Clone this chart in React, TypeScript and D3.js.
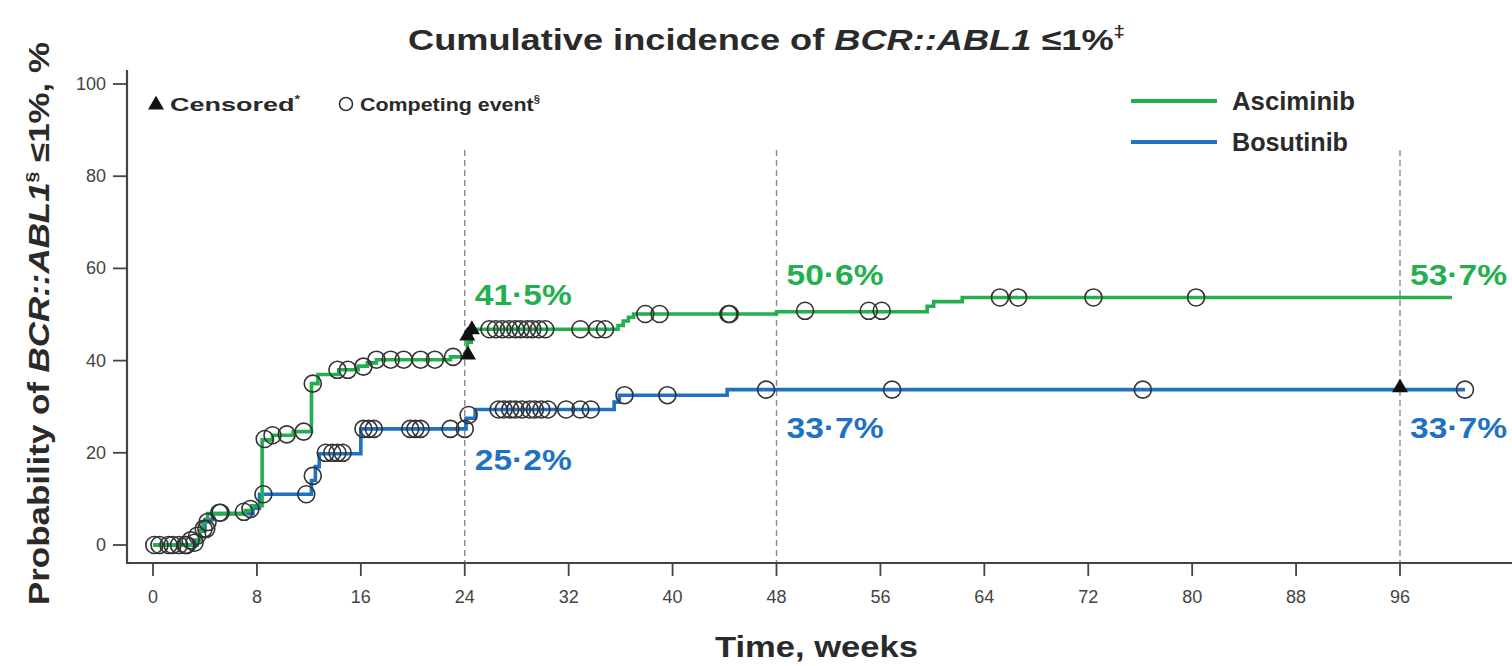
import React from "react";
import * as d3 from "d3";

const xTicks = [0, 8, 16, 24, 32, 40, 48, 56, 64, 72, 80, 88, 96];
const yTicks = [0, 20, 40, 60, 80, 100];
const refWeeks = [24, 48, 96];

// step change points [week, %]
const asciminibSteps: [number, number][] = [
  [0, 0], [3.4, 1], [3.6, 3], [3.85, 5], [4.2, 6.8], [7.1, 7.5], [7.6, 8.5], [8.4, 22.8], [9.2, 23.8], [10.8, 24.6],
  [12.2, 35], [12.7, 37], [14.3, 38], [15.8, 38.8], [16.5, 39.5], [17.2, 40.2], [22.9, 40.8], [24, 41.5],
  [24.2, 44], [24.5, 46.8], [35.8, 47.6], [36.2, 48.6], [36.6, 49.4], [37, 50.1], [48, 50.6],
  [59.6, 51.8], [60.1, 52.8], [62.3, 53.7], [100.0, 53.7],
];
const bosutinibSteps: [number, number][] = [
  [0, 0], [3.2, 1], [3.6, 3], [4.0, 5.5], [4.6, 6.8], [7.7, 8], [8.2, 11], [12.2, 14], [12.5, 17], [12.8, 19.8],
  [16, 25.2], [24.1, 27.5], [24.8, 29.4], [35.5, 31], [35.9, 32.5], [44.2, 33.7], [101.0, 33.7],
];

const asciminibCompeting: [number, number][] = [
  [0.5, 0], [1.5, 0], [2.5, 0], [3.2, 0.5], [4.1, 3.5], [5.1, 7], [7.0, 7.2], [7.5, 7.8],
  [8.6, 23], [9.2, 23.8], [10.3, 24], [11.6, 24.6], [12.3, 35], [14.2, 38], [15.0, 38], [16.2, 38.7],
  [17.2, 40.2], [18.3, 40.2], [19.3, 40.2], [20.6, 40.2], [21.7, 40.2], [23.1, 40.8],
  [25.9, 46.8], [26.4, 46.8], [26.9, 46.8], [27.4, 46.8], [27.9, 46.8], [28.3, 46.8], [28.8, 46.8], [29.2, 46.8],
  [29.7, 46.8], [30.2, 46.8], [32.9, 46.8], [34.2, 46.8], [34.8, 46.8], [37.9, 50.1], [39.0, 50.1],
  [44.3, 50.1], [44.4, 50.1], [50.2, 50.8], [55.1, 50.8], [56.1, 50.8],
  [65.2, 53.7], [66.6, 53.7], [72.4, 53.7], [80.3, 53.7],
];
const bosutinibCompeting: [number, number][] = [
  [0.1, 0], [1.2, 0], [2.0, 0], [2.6, 0], [2.9, 1], [3.4, 2], [3.9, 3.5], [4.2, 5], [5.2, 7],
  [8.5, 11], [11.8, 11], [12.3, 15], [13.3, 20], [13.8, 20], [14.2, 20], [14.6, 20],
  [16.2, 25.2], [16.6, 25.2], [17.0, 25.2], [19.8, 25.2], [20.2, 25.2], [20.6, 25.2], [22.9, 25.2], [24.0, 25.2],
  [24.3, 28.2], [26.6, 29.4], [27.0, 29.4], [27.5, 29.4], [27.9, 29.4], [28.4, 29.4], [29.0, 29.4], [29.4, 29.4],
  [29.9, 29.4], [30.4, 29.4], [31.8, 29.4], [32.9, 29.4], [33.7, 29.4],
  [36.3, 32.5], [39.6, 32.5], [47.2, 33.7], [56.9, 33.7], [76.2, 33.7], [101.0, 33.7],
];
const asciminibCensored: [number, number][] = [[24.25, 40.8], [24.2, 44.9], [24.55, 46.3]];
const bosutinibCensored: [number, number][] = [[96, 33.7]];

const annotations = [
  { week: 24, text: "41·5%", value: 41.5, series: "Asciminib", dy: -49 },
  { week: 48, text: "50·6%", value: 50.6, series: "Asciminib", dy: -27 },
  { week: 96, text: "53·7%", value: 53.7, series: "Asciminib", dy: -12 },
  { week: 24, text: "25·2%", value: 25.2, series: "Bosutinib", dy: 41 },
  { week: 48, text: "33·7%", value: 33.7, series: "Bosutinib", dy: 48 },
  { week: 96, text: "33·7%", value: 33.7, series: "Bosutinib", dy: 48 },
];

const GREEN = "#22b04f";
const BLUE = "#1f72c2";
const DARK = "#2a2a2a";
const AXIS = "#444";

export default function App() {
  const x = d3.scaleLinear().domain([0, 96]).range([153, 1400]);
  const y = d3.scaleLinear().domain([0, 100]).range([545, 84]);
  const line = d3
    .line<[number, number]>()
    .x((d) => x(d[0]))
    .y((d) => y(d[1]))
    .curve(d3.curveStepAfter);
  const tri = d3.symbol().type(d3.symbolTriangle).size(110)();
  const font = "'Liberation Sans', Arial, sans-serif";
  const narrow = "'Liberation Sans Narrow', 'Liberation Sans', Arial, sans-serif";

  const colorOf = (s: string) => (s === "Asciminib" ? GREEN : BLUE);

  return (
    <svg width={1512} height={666} style={{ position: "absolute", left: 0, top: 0, background: "#fff" }} fontFamily={font}>
      {/* title */}
      <text x={408} y={50} fontSize={30} fontWeight={700} fill={DARK} textLength={717} lengthAdjust="spacingAndGlyphs">
        Cumulative incidence of <tspan fontStyle="italic">BCR::ABL1</tspan> ≤1%
        <tspan fontSize={17} dy={-13}>‡</tspan>
      </text>

      {/* y label */}
      <text transform="translate(49,605) rotate(-90)" fontSize={29} fontWeight={700} fill={DARK} textLength={563} lengthAdjust="spacingAndGlyphs">
        Probability of <tspan fontStyle="italic">BCR::ABL1</tspan>
        <tspan fontSize={16} dy={-11}>§</tspan>
        <tspan dy={11}> ≤1%, %</tspan>
      </text>

      {/* x label */}
      <text x={715} y={657} fontSize={30} fontWeight={700} fill={DARK} textLength={203} lengthAdjust="spacingAndGlyphs">
        Time, weeks
      </text>

      {/* reference dashed lines */}
      {refWeeks.map((w) => (
        <line key={w} x1={x(w)} x2={x(w)} y1={150} y2={563} stroke="#8a8a8a" strokeWidth={1.4} strokeDasharray="6,4" />
      ))}

      {/* axes */}
      <line x1={127} x2={127} y1={70} y2={564} stroke={AXIS} strokeWidth={2.2} />
      <line x1={126} x2={1512} y1={563} y2={563} stroke={AXIS} strokeWidth={2.2} />
      {yTicks.map((t) => (
        <g key={t}>
          <line x1={113} x2={127} y1={y(t)} y2={y(t)} stroke={AXIS} strokeWidth={1.8} />
          <text x={106} y={y(t) + 6} textAnchor="end" fontSize={18} fill="#444" fontFamily={narrow}>
            {t}
          </text>
        </g>
      ))}
      {xTicks.map((t) => (
        <g key={t}>
          <line x1={x(t)} x2={x(t)} y1={563} y2={576} stroke={AXIS} strokeWidth={1.8} />
          <text x={x(t)} y={603} textAnchor="middle" fontSize={18} fill="#444" fontFamily={narrow}>
            {t}
          </text>
        </g>
      ))}

      {/* step curves */}
      <path d={line(bosutinibSteps) || ""} fill="none" stroke={BLUE} strokeWidth={3.6} />
      <path d={line(asciminibSteps) || ""} fill="none" stroke={GREEN} strokeWidth={3.6} />

      {/* competing events */}
      {bosutinibCompeting.concat(asciminibCompeting).map((d, i) => (
        <circle key={i} cx={x(d[0])} cy={y(d[1])} r={8.5} fill="none" stroke="#333" strokeWidth={1.6} />
      ))}
      {/* censored */}
      {asciminibCensored.concat(bosutinibCensored).map((d, i) => (
        <path key={i} d={tri || ""} transform={`translate(${x(d[0])},${y(d[1]) - 2})`} fill="#111" />
      ))}

      {/* annotations */}
      {annotations.map((a, i) => (
        <text
          key={i}
          x={x(a.week) + 10}
          y={y(a.value) + a.dy}
          fontSize={30}
          fontWeight={700}
          fill={colorOf(a.series)}
          textLength={97}
          lengthAdjust="spacingAndGlyphs"
        >
          {a.text}
        </text>
      ))}

      {/* legend top-left */}
      <path d={tri || ""} transform="translate(156,105)" fill="#111" />
      <text x={170} y={111} fontSize={19} fontWeight={700} fill={DARK} textLength={130} lengthAdjust="spacingAndGlyphs">
        Censored<tspan fontSize={10} dy={-8}>*</tspan>
      </text>
      <circle cx={346} cy={104} r={6.5} fill="none" stroke="#333" strokeWidth={1.6} />
      <text x={360} y={111} fontSize={19} fontWeight={700} fill={DARK} textLength={180} lengthAdjust="spacingAndGlyphs">
        Competing event<tspan fontSize={10} dy={-8}>§</tspan>
      </text>

      {/* legend top-right */}
      <line x1={1131} x2={1217} y1={101} y2={101} stroke={GREEN} strokeWidth={4} />
      <text x={1232} y={110} fontSize={25} fontWeight={700} fill={DARK} textLength={123} lengthAdjust="spacingAndGlyphs">Asciminib</text>
      <line x1={1131} x2={1217} y1={142} y2={142} stroke={BLUE} strokeWidth={4} />
      <text x={1232} y={151} fontSize={25} fontWeight={700} fill={DARK} textLength={116} lengthAdjust="spacingAndGlyphs">Bosutinib</text>
    </svg>
  );
}
